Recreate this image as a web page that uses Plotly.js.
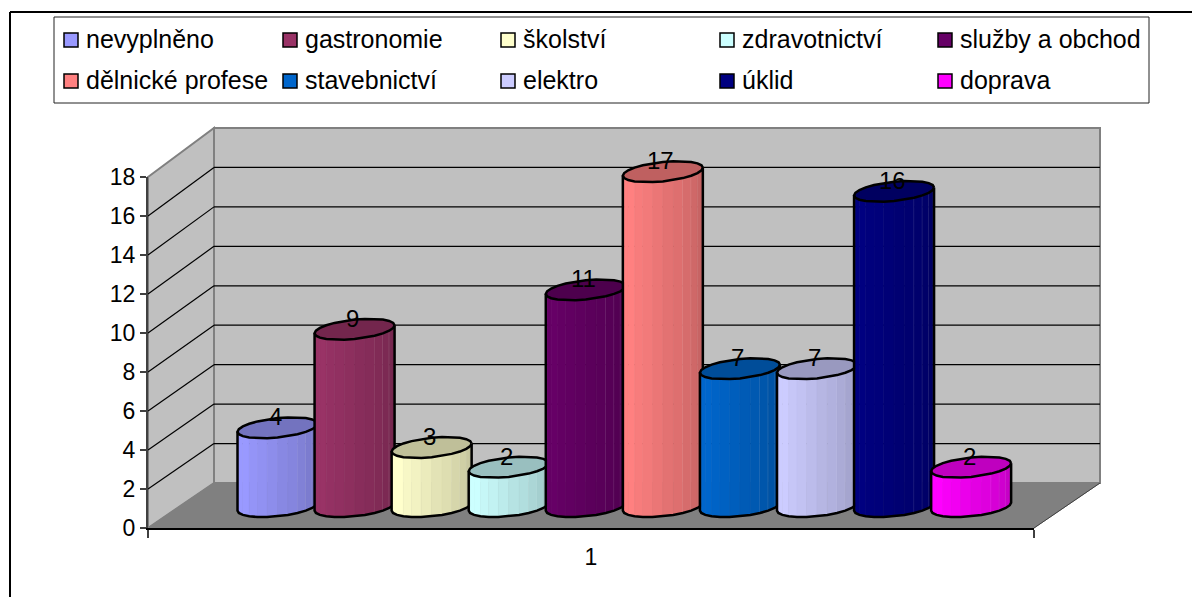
<!DOCTYPE html>
<html>
<head>
<meta charset="utf-8">
<script src="https://cdn.plot.ly/plotly-3.0.1.min.js"></script>
<style>html,body{margin:0;padding:0;background:#fff}#chart{width:1192px;height:597px}</style>
</head>
<body>
<div id="chart"></div>
<script>
// ---- data ----
const categories = ['nevyplněno','gastronomie','školství','zdravotnictví','služby a obchod','dělnické profese','stavebnictví','elektro','úklid','doprava'];
const values = [4,9,3,2,11,17,7,7,16,2];
const colors = ['#9999FF','#993366','#FFFFCC','#CCFFFF','#660066','#FF8080','#0066CC','#CCCCFF','#000080','#FF00FF'];
const yTicks = [0,2,4,6,8,10,12,14,16,18];
const xLabels = ['1'];

// ---- geometry of the drawing ----
const W = 1192, H = 597;
const px = x => x / W, py = y => 1 - y / H;
const FONT = '"Liberation Sans", Arial, sans-serif';
const FRONT = {l:148, r:1034, y0:528, y18:177};
const BACK  = {l:214, r:1100, y0:483, y18:128};
const yf = v => FRONT.y0 + (FRONT.y18 - FRONT.y0) * v / 18;
const yb = v => BACK.y0 + (BACK.y18 - BACK.y0) * v / 18;

// scale of the cylinders: pixel = origin + step * position / value
const X0 = 277.5, XSTEP = 77.07, Y0 = 506.6, YSTEP = 19.7;
const HALF = 40 / XSTEP, TILT = 0.1, DEPTH = 9.7;
const NF = 12;
const shade = [1,1,1,0.97,0.95,0.92,0.89,0.87,0.84,0.81,0.78,0.75];

function mix(hex, f) {
  const n = parseInt(hex.slice(1), 16);
  return 'rgb(' + [(n>>16)&255,(n>>8)&255,n&255].map(c => Math.round(c*f)).join(',') + ')';
}
// point on the tilted ellipse at angle t (t=PI left, PI/2 front, 0 right, -PI/2 back)
function pt(i, v, t) {
  const dx = Math.cos(t);
  const dy = DEPTH * Math.sin(t) - TILT * 40 * dx;
  return [i + HALF * dx, v - dy / YSTEP];
}

const traces = [];
// invisible anchor on the visible axes
traces.push({type:'scatter', x:[1], y:[0], mode:'none', xaxis:'x', yaxis:'y', showlegend:false, hoverinfo:'skip'});
const base2 = {type:'scatter', xaxis:'x2', yaxis:'y2', showlegend:false, hoverinfo:'skip'};

values.forEach((v, i) => {
  const c = colors[i];
  // facets of the body
  for (let j = 0; j < NF; j++) {
    const t1 = Math.PI - j * Math.PI / NF, t2 = Math.PI - (j + 1) * Math.PI / NF;
    const a = pt(i,0,t1), b = pt(i,0,t2), d = pt(i,v,t2), e = pt(i,v,t1);
    const col = mix(c, shade[j]);
    traces.push(Object.assign({}, base2, {
      name: categories[i], mode:'lines', fill:'toself', fillcolor: col,
      x:[a[0],b[0],d[0],e[0],a[0]], y:[a[1],b[1],d[1],e[1],a[1]],
      line:{color: col, width:0.6}
    }));
    if (j >= 7 && j <= 9) {
      traces.push(Object.assign({}, base2, {
        mode:'lines', x:[b[0],d[0]], y:[b[1],d[1]],
        line:{color:'rgba(255,255,255,0.25)', width:1}
      }));
    }
  }
  // top of the cylinder
  const tx = [], ty = [];
  for (let j = 0; j <= 2 * NF; j++) {
    const p = pt(i, v, j * Math.PI / NF);
    tx.push(p[0]); ty.push(p[1]);
  }
  traces.push(Object.assign({}, base2, {
    mode:'lines', fill:'toself', fillcolor: mix(c, 0.75), x:tx, y:ty,
    line:{color:'#000', width:2.5}
  }));
  // outline of the body
  const ox = [], oy = [];
  const tl = pt(i, v, Math.PI); ox.push(tl[0]); oy.push(tl[1]);
  for (let j = 0; j <= NF; j++) {
    const p = pt(i, 0, Math.PI - j * Math.PI / NF);
    ox.push(p[0]); oy.push(p[1]);
  }
  const tr = pt(i, v, 0); ox.push(tr[0]); oy.push(tr[1]);
  traces.push(Object.assign({}, base2, {
    mode:'lines', x:ox, y:oy, line:{color:'#000', width:2.5}
  }));
});

// ---- walls ----
const poly = pts => 'M' + pts.map(p => px(p[0]) + ',' + py(p[1])).join('L') + 'Z';
const pshape = (pts, fill, lc, lw) => ({type:'path', xref:'paper', yref:'paper', layer:'below', path:poly(pts),
  fillcolor:fill, line:{color:lc, width:lw}});
const seg = (a, b, c, w) => ({type:'line', xref:'paper', yref:'paper', layer:'below',
  x0:px(a[0]), y0:py(a[1]), x1:px(b[0]), y1:py(b[1]), line:{color:c, width:w}});

const shapes = [
  pshape([[BACK.l,BACK.y18],[BACK.r,BACK.y18],[BACK.r,BACK.y0],[BACK.l,BACK.y0]], '#C0C0C0', '#808080', 2),
  pshape([[FRONT.l,FRONT.y18],[BACK.l,BACK.y18],[BACK.l,BACK.y0],[FRONT.l,FRONT.y0]], '#C0C0C0', '#808080', 2),
  pshape([[FRONT.l,FRONT.y0],[BACK.l,BACK.y0],[BACK.r,BACK.y0],[FRONT.r,FRONT.y0]], '#808080', '#808080', 1),
  seg([FRONT.r,FRONT.y0],[BACK.r,BACK.y0],'#404040',1),
  // outer frame of the chart
  seg([10,12],[W,12],'#000',2),
  seg([10,12],[10,H],'#000',2)
];
yTicks.filter(v => v > 0 && v < 18).forEach(v => {
  shapes.push(seg([BACK.l,yb(v)],[BACK.r,yb(v)],'#000',1.2));
  shapes.push(seg([FRONT.l,yf(v)],[BACK.l,yb(v)],'#000',1.2));
});

// ---- legend ----
shapes.push({type:'rect', xref:'paper', yref:'paper', layer:'below',
  x0:px(54), x1:px(1149), y0:py(17), y1:py(103), fillcolor:'#fff', line:{color:'#222', width:1}});
const annotations = [];
const colX = [64, 283, 501, 720, 938], rowY = [40, 81];
categories.forEach((name, i) => {
  const cx = colX[i % 5], cy = rowY[Math.floor(i / 5)];
  shapes.push({type:'rect', xref:'paper', yref:'paper', layer:'above',
    x0:px(cx), x1:px(cx + 14), y0:py(cy - 7), y1:py(cy + 7),
    fillcolor:colors[i], line:{color:'#000', width:1.5}});
  annotations.push({xref:'paper', yref:'paper', x:px(cx + 21), y:py(cy - 1), xanchor:'left', yanchor:'middle',
    text:name, showarrow:false, borderpad:0, font:{family:FONT, size:25, color:'#000'}});
});

// ---- data labels ----
values.forEach((v, i) => {
  annotations.push({xref:'x2', yref:'y2', x:i, y:v, xshift:-2, yshift:11, xanchor:'center', yanchor:'middle',
    text:String(v), showarrow:false, borderpad:0, font:{family:FONT, size:24, color:'#000'}});
});

const layout = {
  width:W, height:H, margin:{l:0,r:0,t:0,b:0},
  paper_bgcolor:'#fff', plot_bgcolor:'rgba(0,0,0,0)',
  showlegend:false, hovermode:false,
  font:{family:FONT, color:'#000'},
  xaxis:{domain:[px(FRONT.l), px(FRONT.r)], anchor:'y', range:[0.5,1.5], tickmode:'array', tickvals:[1], ticktext:xLabels,
    ticks:'', ticklabelstandoff:8, showgrid:false, zeroline:false, showline:true, linecolor:'#000', linewidth:1.5,
    tickfont:{family:FONT, size:23, color:'#000'},
    minor:{tickmode:'array', tickvals:[0.5,1.5], ticks:'outside', ticklen:8, tickwidth:1.5, tickcolor:'#404040', showgrid:false}},
  yaxis:{domain:[py(FRONT.y0), py(FRONT.y18)], anchor:'x', range:[0,18], tickmode:'array', tickvals:yTicks,
    ticks:'outside', ticklen:6, tickwidth:1.5, tickcolor:'#404040', showgrid:false, zeroline:false,
    showline:true, linecolor:'#404040', linewidth:2, ticklabelstandoff:0,
    tickfont:{family:FONT, size:23, color:'#000'}},
  xaxis2:{domain:[0,1], anchor:'y2', range:[(0 - X0) / XSTEP, (W - X0) / XSTEP], visible:false, fixedrange:true},
  yaxis2:{domain:[0,1], anchor:'x2', range:[(Y0 - H) / YSTEP, Y0 / YSTEP], visible:false, fixedrange:true},
  shapes:shapes, annotations:annotations
};
Plotly.newPlot('chart', traces, layout, {displayModeBar:false, staticPlot:true});
</script>
</body>
</html>
